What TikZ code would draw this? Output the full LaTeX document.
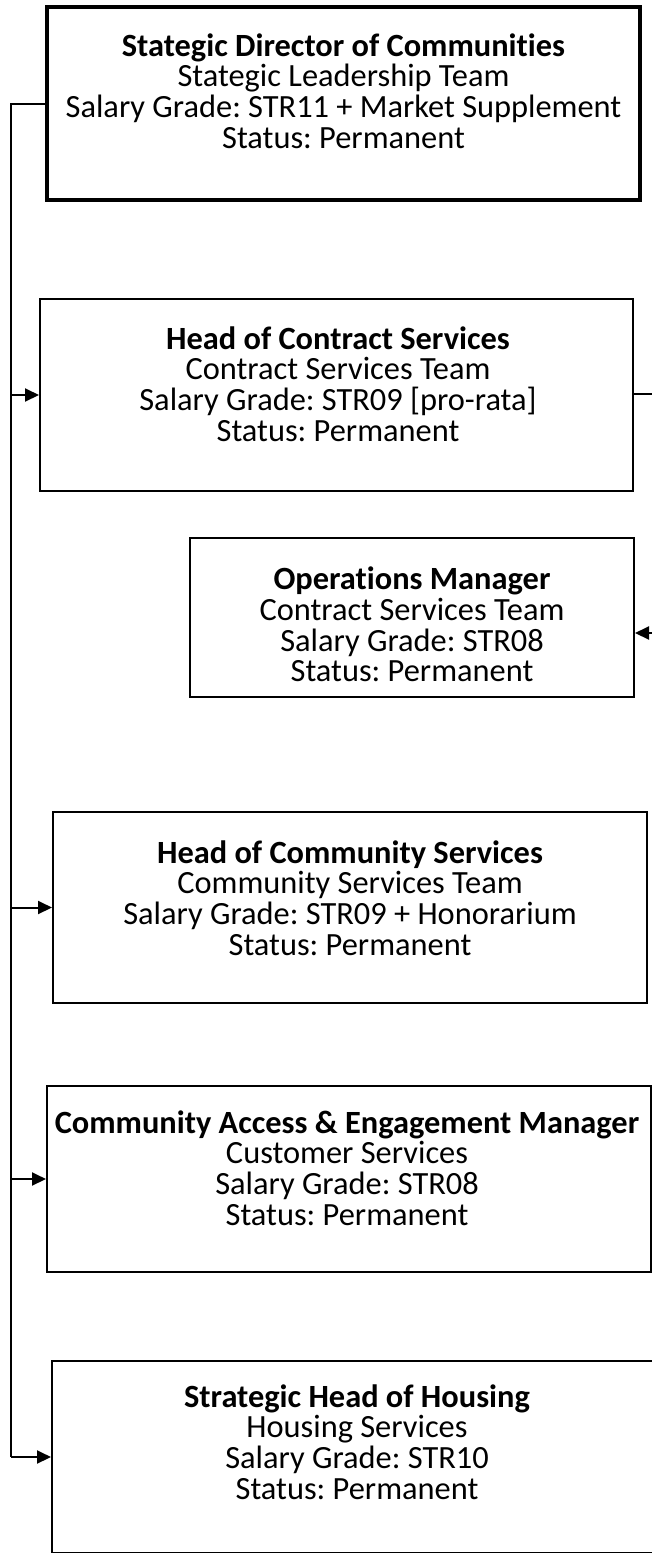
\documentclass[tikz,border=0pt]{standalone}
\usepackage{fontspec}
\setmainfont{Carlito}[Ligatures=NoCommon]
\usetikzlibrary{arrows.meta}
\frenchspacing
\begin{document}
\begin{tikzpicture}[x=1pt,y=-1pt,
  box/.style={draw=black,line width=2pt,fill=white,inner sep=0pt},
  topbox/.style={box,line width=3.2pt},
  txt/.style={align=center,font=\fontsize{32.4}{30.7}\selectfont,inner sep=0pt},
  conn/.style={draw=black,line width=2pt},
  arr/.style={conn,-{Triangle[length=14pt,width=13pt]}}]
\useasboundingbox (0,0) rectangle (652,1553);
% boxes
\node[topbox,minimum width=593pt,minimum height=193pt] (b1) at (343.5,103.5) {};
\node[box,minimum width=593pt,minimum height=192pt] (b2) at (336.5,395) {};
\node[box,minimum width=444pt,minimum height=159pt] (b3) at (412,617.5) {};
\node[box,minimum width=594pt,minimum height=191pt] (b4) at (350,907.5) {};
\node[box,minimum width=604pt,minimum height=186pt] (b5) at (349,1179) {};
\node[box,minimum width=610pt,minimum height=192pt] (b6) at (357,1457) {};
% texts
\node[txt] (t1) at (343.5,91) {\textbf{Stategic Director of Communities}\\Stategic Leadership Team\\Salary Grade: STR11 + Market Supplement\\Status: Permanent};
\node[txt] (t2) at (338,384) {\textbf{Head of Contract Services}\\Contract Services Team\\Salary Grade: STR09 [pro-rata]\\Status: Permanent};
\node[txt] (t3) at (412,624.5) {\textbf{Operations Manager}\\Contract Services Team\\Salary Grade: STR08\\Status: Permanent};
\node[txt] (t4) at (350,898) {\textbf{Head of Community Services}\\Community Services Team\\Salary Grade: STR09 + Honorarium\\Status: Permanent};
\node[txt] (t5) at (347,1168) {\textbf{Community Access \& Engagement Manager}\\Customer Services\\Salary Grade: STR08\\Status: Permanent};
\node[txt] (t6) at (357,1442) {\textbf{Strategic Head of Housing}\\Housing Services\\Salary Grade: STR10\\Status: Permanent};
% connectors
\coordinate (bus) at (11,0);
\coordinate (r1) at (675,394);
\coordinate (r2) at (675,633);
\draw[conn] (b1.west) -- (b1.west -| bus) -- (b6.west -| bus);
\draw[arr] (b6.west -| bus) -- (b6.west);
\draw[arr] (b2.west -| bus) -- (b2.west);
\draw[arr] (b4.west -| bus) -- (b4.west);
\draw[arr] (b5.west -| bus) -- (b5.west);
\draw[conn] (b2.east |- r1) -- (r1) -- (r2);
\draw[arr] (r2) -- (b3.east |- r2);
\end{tikzpicture}
\end{document}
